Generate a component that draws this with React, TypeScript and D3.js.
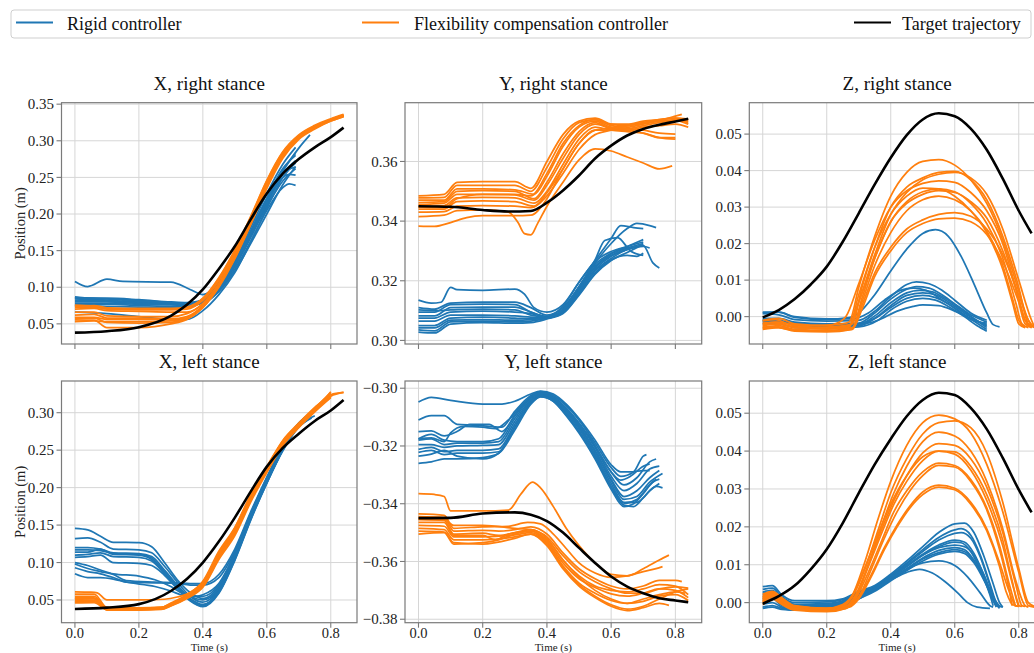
import React from 'react';
import * as d3 from 'd3';

type Pt = [number, number];

// ---------- shared tick values ----------
const TIME_TICKS = [0, 0.2, 0.4, 0.6, 0.8];
const X_RIGHT_Y_TICKS = [0.05, 0.1, 0.15, 0.2, 0.25, 0.3, 0.35];
const X_LEFT_Y_TICKS = [0.05, 0.1, 0.15, 0.2, 0.25, 0.3];
const Y_RIGHT_Y_TICKS = [0.3, 0.32, 0.34, 0.36];
const Y_LEFT_Y_TICKS = [-0.38, -0.36, -0.34, -0.32, -0.3];
const Z_Y_TICKS = [0, 0.01, 0.02, 0.03, 0.04, 0.05];

const LEGEND_LABELS = ['Rigid controller', 'Flexibility compensation controller', 'Target trajectory'];
const TITLES = ['X, right stance', 'Y, right stance', 'Z, right stance', 'X, left stance', 'Y, left stance', 'Z, left stance'];

// ---------- X, right stance ----------
const XR_TARGET: Pt[] = [[0,0.038],[0.1,0.040],[0.2,0.0455],[0.3,0.061],[0.35,0.076],[0.4,0.097],[0.45,0.125],[0.5,0.156],[0.55,0.193],[0.6,0.228],[0.65,0.255],[0.7,0.275],[0.75,0.291],[0.8,0.305],[0.84,0.318]];
const XR_RIGID: Pt[][] = [
  [[0,0.108],[0.04,0.101],[0.1,0.111],[0.15,0.108],[0.3,0.107],[0.36,0.097],[0.4,0.09],[0.45,0.105],[0.5,0.135],[0.55,0.172],[0.6,0.21],[0.65,0.245],[0.69,0.262]],
  [[0,0.087],[0.05,0.085],[0.1,0.085],[0.2,0.083],[0.3,0.08],[0.35,0.079],[0.4,0.082],[0.45,0.1],[0.5,0.13],[0.55,0.17],[0.6,0.215],[0.65,0.25],[0.67,0.254],[0.69,0.253]],
  [[0,0.085],[0.05,0.083],[0.1,0.084],[0.2,0.082],[0.3,0.079],[0.35,0.077],[0.4,0.078],[0.45,0.095],[0.5,0.125],[0.55,0.163],[0.6,0.205],[0.65,0.236],[0.67,0.241],[0.69,0.239]],
  [[0,0.084],[0.1,0.082],[0.2,0.08],[0.3,0.078],[0.35,0.076],[0.4,0.08],[0.45,0.1],[0.5,0.133],[0.55,0.175],[0.6,0.22],[0.65,0.256],[0.69,0.264]],
  [[0,0.082],[0.1,0.081],[0.2,0.079],[0.3,0.077],[0.35,0.076],[0.4,0.079],[0.45,0.097],[0.5,0.128],[0.55,0.168],[0.6,0.212],[0.65,0.255],[0.69,0.273]],
  [[0,0.08],[0.1,0.08],[0.2,0.078],[0.3,0.077],[0.35,0.077],[0.4,0.083],[0.45,0.104],[0.5,0.137],[0.55,0.178],[0.6,0.222],[0.65,0.262],[0.69,0.28]],
  [[0,0.078],[0.1,0.078],[0.2,0.077],[0.3,0.076],[0.35,0.075],[0.4,0.084],[0.45,0.107],[0.5,0.14],[0.55,0.182],[0.6,0.228],[0.65,0.268],[0.69,0.291]],
  [[0,0.076],[0.1,0.077],[0.2,0.075],[0.3,0.074],[0.35,0.074],[0.4,0.081],[0.45,0.1],[0.5,0.13],[0.55,0.17],[0.6,0.215],[0.65,0.258],[0.7,0.29],[0.735,0.308]],
  [[0,0.086],[0.1,0.084],[0.2,0.081],[0.3,0.079],[0.35,0.078],[0.4,0.079],[0.45,0.094],[0.5,0.122],[0.55,0.16],[0.6,0.2],[0.65,0.24],[0.69,0.265]],
  [[0,0.066],[0.1,0.064],[0.2,0.06],[0.3,0.056],[0.35,0.056],[0.4,0.068],[0.45,0.09],[0.5,0.12],[0.55,0.162],[0.6,0.208],[0.65,0.25],[0.69,0.27]],
  [[0,0.075],[0.1,0.074],[0.2,0.073],[0.3,0.072],[0.35,0.073],[0.4,0.08],[0.45,0.1],[0.5,0.132],[0.55,0.173],[0.6,0.218],[0.65,0.26],[0.69,0.283]],
];
const XR_FLEX: Pt[][] = [
  [[0,0.0757],[0.06,0.074],[0.1,0.071],[0.2,0.0705],[0.3,0.07],[0.35,0.072],[0.4,0.084],[0.45,0.112],[0.5,0.15],[0.55,0.196],[0.6,0.245],[0.65,0.284],[0.7,0.307],[0.75,0.32],[0.8,0.329],[0.84,0.335]],
  [[0,0.0725],[0.06,0.073],[0.1,0.07],[0.2,0.069],[0.3,0.069],[0.35,0.07],[0.4,0.082],[0.45,0.109],[0.5,0.147],[0.55,0.193],[0.6,0.242],[0.65,0.282],[0.7,0.306],[0.75,0.319],[0.8,0.329],[0.84,0.334]],
  [[0,0.066],[0.06,0.066],[0.1,0.061],[0.2,0.06],[0.3,0.06],[0.35,0.064],[0.4,0.078],[0.45,0.105],[0.5,0.143],[0.55,0.19],[0.6,0.24],[0.65,0.28],[0.7,0.305],[0.75,0.318],[0.8,0.328],[0.84,0.334]],
  [[0,0.062],[0.06,0.063],[0.1,0.058],[0.2,0.058],[0.3,0.057],[0.35,0.06],[0.4,0.075],[0.45,0.102],[0.5,0.14],[0.55,0.187],[0.6,0.237],[0.65,0.278],[0.7,0.303],[0.75,0.317],[0.8,0.327],[0.84,0.333]],
  [[0,0.059],[0.06,0.059],[0.1,0.056],[0.2,0.056],[0.3,0.056],[0.35,0.058],[0.4,0.073],[0.45,0.1],[0.5,0.139],[0.55,0.186],[0.6,0.235],[0.65,0.276],[0.7,0.302],[0.75,0.316],[0.8,0.327],[0.84,0.333]],
  [[0,0.0555],[0.06,0.055],[0.1,0.045],[0.2,0.045],[0.3,0.05],[0.35,0.056],[0.4,0.072],[0.45,0.101],[0.5,0.142],[0.55,0.19],[0.6,0.24],[0.65,0.279],[0.7,0.304],[0.75,0.318],[0.8,0.328],[0.84,0.334]],
  [[0,0.053],[0.06,0.054],[0.1,0.053],[0.2,0.053],[0.3,0.054],[0.35,0.058],[0.4,0.074],[0.45,0.103],[0.5,0.144],[0.55,0.191],[0.6,0.24],[0.65,0.28],[0.7,0.305],[0.75,0.319],[0.8,0.329],[0.84,0.335]],
  [[0,0.07],[0.06,0.071],[0.1,0.068],[0.2,0.067],[0.3,0.066],[0.35,0.066],[0.4,0.077],[0.45,0.104],[0.5,0.142],[0.55,0.188],[0.6,0.238],[0.65,0.279],[0.7,0.304],[0.75,0.318],[0.8,0.328],[0.84,0.334]],
  [[0,0.0575],[0.06,0.058],[0.1,0.052],[0.2,0.051],[0.3,0.052],[0.35,0.057],[0.4,0.073],[0.45,0.102],[0.5,0.142],[0.55,0.19],[0.6,0.24],[0.65,0.28],[0.7,0.304],[0.75,0.318],[0.8,0.328],[0.84,0.334]],
  [[0,0.074],[0.06,0.075],[0.1,0.072],[0.2,0.071],[0.3,0.071],[0.35,0.073],[0.4,0.085],[0.45,0.113],[0.5,0.151],[0.55,0.197],[0.6,0.246],[0.65,0.285],[0.7,0.308],[0.75,0.321],[0.8,0.33],[0.84,0.336]],
];

// ---------- Y, right stance ----------
const YR_TARGET: Pt[] = [[0,0.345],[0.1,0.3448],[0.2,0.3437],[0.28,0.3432],[0.35,0.3434],[0.4,0.3462],[0.45,0.3503],[0.5,0.3553],[0.55,0.361],[0.6,0.3653],[0.65,0.3687],[0.7,0.3709],[0.75,0.3723],[0.8,0.3734],[0.84,0.3743]];
const YR_RIGID: Pt[][] = [
  [[0,0.3135],[0.04,0.3125],[0.07,0.3128],[0.1,0.3178],[0.12,0.317],[0.2,0.3168],[0.3,0.3172],[0.33,0.3155],[0.36,0.311],[0.4,0.3095],[0.45,0.312],[0.5,0.3195],[0.55,0.3265],[0.6,0.3298],[0.65,0.3315],[0.7,0.333]],
  [[0,0.311],[0.05,0.3105],[0.1,0.3125],[0.2,0.3128],[0.3,0.3128],[0.35,0.311],[0.4,0.3085],[0.45,0.311],[0.5,0.318],[0.55,0.3255],[0.6,0.3292],[0.65,0.3315],[0.7,0.3338]],
  [[0,0.3095],[0.05,0.3095],[0.1,0.312],[0.2,0.3122],[0.3,0.312],[0.35,0.3095],[0.4,0.308],[0.45,0.3105],[0.5,0.3175],[0.55,0.3248],[0.6,0.329],[0.65,0.331],[0.7,0.3325]],
  [[0,0.3082],[0.05,0.3082],[0.1,0.311],[0.2,0.3112],[0.3,0.3112],[0.35,0.3095],[0.4,0.3078],[0.45,0.31],[0.5,0.317],[0.55,0.3245],[0.6,0.3285],[0.65,0.3305],[0.7,0.332]],
  [[0,0.3075],[0.05,0.3075],[0.1,0.3095],[0.2,0.3098],[0.3,0.3095],[0.35,0.309],[0.4,0.308],[0.45,0.3115],[0.5,0.3195],[0.55,0.3268],[0.6,0.3342],[0.63,0.3385],[0.67,0.3378],[0.7,0.3375]],
  [[0,0.3065],[0.05,0.3065],[0.1,0.3085],[0.2,0.3085],[0.3,0.3082],[0.35,0.3078],[0.4,0.3075],[0.45,0.31],[0.5,0.318],[0.55,0.327],[0.58,0.3335],[0.62,0.3345],[0.66,0.33],[0.7,0.3285]],
  [[0,0.305],[0.05,0.305],[0.1,0.3075],[0.2,0.3078],[0.3,0.3075],[0.35,0.3072],[0.4,0.3075],[0.45,0.3098],[0.5,0.3165],[0.55,0.3238],[0.6,0.3282],[0.65,0.3305],[0.7,0.3315],[0.72,0.331]],
  [[0,0.3042],[0.05,0.3042],[0.1,0.3068],[0.2,0.307],[0.3,0.3068],[0.35,0.307],[0.4,0.3078],[0.45,0.3095],[0.5,0.316],[0.55,0.3232],[0.6,0.3275],[0.65,0.3305],[0.7,0.3318],[0.73,0.326],[0.75,0.3243]],
  [[0,0.3035],[0.05,0.3032],[0.1,0.3062],[0.2,0.3065],[0.3,0.3062],[0.35,0.3065],[0.4,0.3075],[0.45,0.3092],[0.5,0.3155],[0.55,0.3225],[0.6,0.327],[0.65,0.3285],[0.68,0.3282],[0.7,0.3292]],
  [[0,0.3028],[0.05,0.3025],[0.1,0.3055],[0.2,0.306],[0.3,0.3058],[0.35,0.306],[0.4,0.3072],[0.45,0.309],[0.5,0.3152],[0.55,0.3222],[0.6,0.3268],[0.65,0.3295],[0.7,0.3322]],
  [[0,0.3102],[0.05,0.31],[0.1,0.3102],[0.2,0.3105],[0.3,0.3102],[0.35,0.3085],[0.4,0.3078],[0.45,0.3102],[0.5,0.318],[0.55,0.326],[0.6,0.3325],[0.65,0.3375],[0.68,0.3392],[0.72,0.3385],[0.74,0.3378]],
];
const YR_FLEX: Pt[][] = [
  [[0,0.3485],[0.08,0.349],[0.12,0.353],[0.2,0.3532],[0.3,0.3532],[0.35,0.351],[0.4,0.36],[0.45,0.369],[0.5,0.3735],[0.55,0.3745],[0.6,0.3725],[0.65,0.372],[0.7,0.373],[0.75,0.374],[0.8,0.3745],[0.84,0.3742]],
  [[0,0.3478],[0.08,0.348],[0.12,0.352],[0.2,0.352],[0.3,0.352],[0.35,0.35],[0.4,0.358],[0.45,0.3675],[0.5,0.373],[0.55,0.374],[0.6,0.372],[0.65,0.3715],[0.7,0.3725],[0.75,0.3735],[0.8,0.374],[0.84,0.373]],
  [[0,0.347],[0.08,0.347],[0.12,0.3508],[0.2,0.3508],[0.3,0.3505],[0.36,0.349],[0.4,0.355],[0.45,0.365],[0.5,0.3715],[0.55,0.3735],[0.6,0.3715],[0.65,0.371],[0.7,0.372],[0.75,0.373],[0.8,0.3738],[0.84,0.3725]],
  [[0,0.3462],[0.08,0.3465],[0.12,0.35],[0.2,0.3502],[0.3,0.35],[0.36,0.3475],[0.4,0.353],[0.45,0.3625],[0.5,0.37],[0.55,0.373],[0.6,0.371],[0.65,0.3705],[0.7,0.3715],[0.75,0.372],[0.8,0.3725],[0.84,0.3715]],
  [[0,0.3455],[0.08,0.346],[0.12,0.349],[0.2,0.349],[0.3,0.3488],[0.36,0.347],[0.4,0.352],[0.45,0.361],[0.5,0.369],[0.55,0.3725],[0.6,0.3712],[0.65,0.371],[0.7,0.3705],[0.75,0.3695],[0.8,0.3692]],
  [[0,0.3448],[0.08,0.3452],[0.12,0.3478],[0.2,0.348],[0.3,0.3478],[0.36,0.346],[0.4,0.35],[0.45,0.359],[0.5,0.3675],[0.55,0.3715],[0.6,0.3705],[0.65,0.37],[0.7,0.3695],[0.75,0.368],[0.8,0.3675]],
  [[0,0.344],[0.08,0.344],[0.12,0.3465],[0.2,0.3468],[0.3,0.3465],[0.36,0.345],[0.4,0.3495],[0.45,0.3575],[0.5,0.366],[0.55,0.3705],[0.6,0.3712],[0.65,0.372],[0.7,0.3728],[0.75,0.3738],[0.8,0.3752],[0.82,0.3758]],
  [[0,0.343],[0.08,0.3432],[0.12,0.345],[0.2,0.3452],[0.3,0.345],[0.35,0.3445],[0.4,0.3485],[0.45,0.356],[0.5,0.364],[0.55,0.369],[0.6,0.3705],[0.65,0.372],[0.7,0.373],[0.75,0.3735],[0.8,0.3735],[0.84,0.3735]],
  [[0,0.3415],[0.08,0.342],[0.12,0.3435],[0.2,0.3438],[0.28,0.343],[0.31,0.3395],[0.33,0.3358],[0.35,0.3354],[0.37,0.339],[0.4,0.345],[0.45,0.353],[0.5,0.3605],[0.55,0.3642],[0.6,0.3635],[0.65,0.3615],[0.7,0.3595],[0.75,0.3575],[0.79,0.3585]],
  [[0,0.3383],[0.05,0.3382],[0.1,0.3395],[0.15,0.3412],[0.2,0.3418],[0.3,0.3418],[0.35,0.342],[0.4,0.3475],[0.45,0.3575],[0.5,0.366],[0.55,0.3705],[0.6,0.3705],[0.65,0.3705],[0.7,0.3695],[0.75,0.368],[0.8,0.368]],
  [[0,0.3448],[0.08,0.3445],[0.12,0.3475],[0.2,0.349],[0.3,0.349],[0.35,0.3485],[0.4,0.356],[0.45,0.366],[0.5,0.372],[0.55,0.374],[0.6,0.3725],[0.65,0.3725],[0.7,0.3735],[0.75,0.374],[0.8,0.3745],[0.84,0.3738]],
];

// ---------- Z, right stance ----------
const ZR_TARGET: Pt[] = [[0,-0.0002],[0.05,0.0018],[0.1,0.0048],[0.15,0.0088],[0.2,0.0137],[0.25,0.0205],[0.3,0.0283],[0.35,0.0362],[0.4,0.0435],[0.45,0.0497],[0.5,0.054],[0.55,0.0557],[0.6,0.0549],[0.65,0.0515],[0.7,0.0457],[0.75,0.0378],[0.8,0.029],[0.84,0.0228]];
const ZR_RIGID: Pt[][] = [
  [[0,0.0012],[0.05,0.0012],[0.1,-0.0002],[0.2,-0.0008],[0.27,-0.0003],[0.3,0.001],[0.35,0.006],[0.4,0.0125],[0.45,0.0185],[0.5,0.0228],[0.54,0.0238],[0.58,0.022],[0.62,0.0165],[0.66,0.009],[0.7,0.001],[0.72,-0.0022],[0.74,-0.0028]],
  [[0,0.0008],[0.05,0.0005],[0.1,-0.0008],[0.2,-0.0012],[0.3,-0.001],[0.35,0.0015],[0.4,0.0055],[0.45,0.0088],[0.48,0.0095],[0.52,0.009],[0.56,0.0072],[0.6,0.0045],[0.65,0.001],[0.7,-0.001]],
  [[0,-0.0005],[0.05,-0.0005],[0.1,-0.0015],[0.2,-0.002],[0.3,-0.0018],[0.35,0.001],[0.4,0.0048],[0.45,0.0075],[0.48,0.0082],[0.52,0.0078],[0.56,0.006],[0.6,0.0035],[0.65,0.0005],[0.7,-0.0015]],
  [[0,-0.001],[0.05,-0.0012],[0.1,-0.002],[0.2,-0.0025],[0.3,-0.0022],[0.35,0.0002],[0.4,0.0038],[0.45,0.0065],[0.49,0.0072],[0.53,0.0068],[0.57,0.005],[0.62,0.002],[0.66,-0.0005],[0.7,-0.0025]],
  [[0,-0.0015],[0.05,-0.0015],[0.1,-0.0022],[0.2,-0.0028],[0.3,-0.0025],[0.35,-0.0005],[0.4,0.003],[0.45,0.0058],[0.5,0.0065],[0.54,0.006],[0.58,0.004],[0.63,0.001],[0.67,-0.0012],[0.7,-0.003]],
  [[0,-0.0008],[0.05,-0.001],[0.1,-0.0018],[0.2,-0.0022],[0.3,-0.002],[0.36,0.0],[0.4,0.0025],[0.45,0.005],[0.5,0.0058],[0.54,0.0052],[0.58,0.0035],[0.63,0.0005],[0.67,-0.0018],[0.7,-0.0035]],
  [[0,-0.002],[0.05,-0.002],[0.1,-0.003],[0.2,-0.0032],[0.3,-0.0028],[0.36,-0.001],[0.4,0.0018],[0.45,0.0042],[0.5,0.005],[0.54,0.0045],[0.58,0.0028],[0.63,0.0],[0.67,-0.0025],[0.7,-0.004]],
  [[0,-0.0012],[0.05,-0.0012],[0.1,-0.002],[0.2,-0.0025],[0.3,-0.0022],[0.36,-0.001],[0.42,0.0015],[0.47,0.0028],[0.5,0.0032],[0.55,0.003],[0.6,0.0015],[0.65,-0.0005],[0.7,-0.0022]],
  [[0,0.001],[0.05,0.0012],[0.1,0.0],[0.2,-0.0006],[0.28,-0.0006],[0.33,0.001],[0.38,0.0045],[0.43,0.0072],[0.47,0.0078],[0.51,0.0072],[0.55,0.0052],[0.6,0.0022],[0.65,-0.0008],[0.7,-0.0018]],
];
const ZR_FLEX: Pt[][] = [
  [[0,-0.0012],[0.04,-0.0008],[0.08,-0.002],[0.15,-0.0025],[0.25,-0.002],[0.27,-0.0015],[0.3,0.008],[0.35,0.022],[0.4,0.033],[0.45,0.0395],[0.5,0.0425],[0.55,0.043],[0.6,0.0415],[0.65,0.0375],[0.7,0.031],[0.75,0.021],[0.8,0.007],[0.83,-0.001],[0.84,-0.0025]],
  [[0,-0.002],[0.04,-0.0015],[0.08,-0.0025],[0.15,-0.003],[0.25,-0.0025],[0.28,-0.002],[0.31,0.008],[0.35,0.019],[0.4,0.03],[0.45,0.0355],[0.5,0.038],[0.55,0.0395],[0.6,0.0398],[0.65,0.0375],[0.7,0.032],[0.75,0.022],[0.8,0.008],[0.83,-0.002],[0.85,-0.003]],
  [[0,-0.0025],[0.05,-0.002],[0.1,-0.003],[0.2,-0.0032],[0.27,-0.0028],[0.3,0.004],[0.35,0.017],[0.4,0.028],[0.45,0.034],[0.5,0.0375],[0.55,0.039],[0.6,0.0395],[0.65,0.038],[0.7,0.0335],[0.75,0.024],[0.8,0.01],[0.84,-0.001],[0.85,-0.003]],
  [[0,-0.0018],[0.05,-0.0015],[0.1,-0.0025],[0.2,-0.003],[0.27,-0.0025],[0.3,0.006],[0.35,0.019],[0.4,0.028],[0.45,0.033],[0.5,0.0352],[0.55,0.035],[0.6,0.033],[0.65,0.029],[0.7,0.023],[0.75,0.013],[0.78,0.004],[0.8,-0.002],[0.82,-0.003]],
  [[0,-0.003],[0.05,-0.0025],[0.1,-0.0035],[0.2,-0.0038],[0.28,-0.003],[0.31,0.005],[0.35,0.016],[0.4,0.026],[0.45,0.0315],[0.5,0.0342],[0.55,0.035],[0.6,0.0342],[0.65,0.031],[0.7,0.0255],[0.75,0.016],[0.79,0.004],[0.81,-0.002],[0.83,-0.003]],
  [[0,-0.0022],[0.05,-0.002],[0.1,-0.003],[0.2,-0.0034],[0.27,-0.0028],[0.3,0.004],[0.35,0.016],[0.4,0.026],[0.45,0.031],[0.5,0.0335],[0.55,0.0345],[0.6,0.034],[0.65,0.0315],[0.7,0.027],[0.75,0.018],[0.8,0.005],[0.82,-0.001],[0.84,-0.003]],
  [[0,-0.0028],[0.05,-0.003],[0.1,-0.0038],[0.2,-0.004],[0.28,-0.0032],[0.31,0.004],[0.35,0.014],[0.4,0.023],[0.45,0.029],[0.5,0.032],[0.55,0.033],[0.6,0.032],[0.65,0.029],[0.7,0.0235],[0.75,0.014],[0.78,0.005],[0.8,-0.001],[0.82,-0.003]],
  [[0,-0.0035],[0.05,-0.003],[0.1,-0.004],[0.2,-0.0042],[0.28,-0.0035],[0.31,0.003],[0.35,0.012],[0.4,0.019],[0.45,0.024],[0.5,0.0265],[0.55,0.028],[0.6,0.0285],[0.65,0.0275],[0.7,0.024],[0.75,0.017],[0.8,0.006],[0.83,-0.001],[0.85,-0.003]],
  [[0,-0.0032],[0.05,-0.0028],[0.1,-0.0036],[0.2,-0.004],[0.28,-0.0034],[0.31,0.002],[0.35,0.011],[0.4,0.018],[0.45,0.023],[0.5,0.0255],[0.55,0.0268],[0.6,0.027],[0.65,0.026],[0.7,0.0225],[0.75,0.015],[0.8,0.004],[0.82,-0.001],[0.84,-0.003]],
  [[0,-0.001],[0.05,-0.0005],[0.1,-0.002],[0.2,-0.0025],[0.24,-0.0015],[0.26,0.0],[0.3,0.009],[0.35,0.021],[0.4,0.03],[0.45,0.0345],[0.5,0.0365],[0.55,0.0372],[0.6,0.0368],[0.65,0.034],[0.7,0.029],[0.75,0.02],[0.79,0.008],[0.82,-0.002],[0.84,-0.003]],
];

// ---------- X, left stance ----------
const XL_TARGET: Pt[] = [[0,0.038],[0.1,0.0398],[0.2,0.0445],[0.3,0.062],[0.35,0.078],[0.4,0.1],[0.45,0.128],[0.5,0.16],[0.55,0.195],[0.6,0.228],[0.65,0.253],[0.7,0.272],[0.75,0.289],[0.8,0.303],[0.84,0.317]];
const XL_RIGID: Pt[][] = [
  [[0,0.1455],[0.04,0.1435],[0.08,0.135],[0.12,0.127],[0.2,0.1265],[0.24,0.121],[0.28,0.1],[0.32,0.077],[0.36,0.06],[0.4,0.052],[0.45,0.068],[0.5,0.112],[0.55,0.165],[0.6,0.212],[0.65,0.255],[0.7,0.285],[0.74,0.3]],
  [[0,0.132],[0.04,0.133],[0.08,0.127],[0.12,0.118],[0.2,0.117],[0.24,0.113],[0.28,0.095],[0.32,0.074],[0.36,0.055],[0.4,0.047],[0.45,0.064],[0.5,0.108],[0.55,0.162],[0.6,0.21],[0.65,0.252],[0.7,0.283],[0.74,0.297]],
  [[0,0.12],[0.04,0.12],[0.08,0.118],[0.12,0.113],[0.2,0.112],[0.24,0.108],[0.28,0.09],[0.32,0.07],[0.36,0.052],[0.4,0.044],[0.45,0.061],[0.5,0.105],[0.55,0.159],[0.6,0.207],[0.65,0.25],[0.7,0.281],[0.74,0.294]],
  [[0,0.117],[0.04,0.117],[0.08,0.116],[0.12,0.112],[0.2,0.111],[0.24,0.106],[0.28,0.088],[0.32,0.068],[0.36,0.05],[0.4,0.042],[0.45,0.06],[0.5,0.104],[0.55,0.158],[0.6,0.206],[0.65,0.249],[0.7,0.281],[0.74,0.293]],
  [[0,0.114],[0.04,0.114],[0.08,0.118],[0.12,0.111],[0.2,0.11],[0.24,0.104],[0.28,0.086],[0.32,0.066],[0.36,0.049],[0.4,0.041],[0.45,0.059],[0.5,0.103],[0.55,0.157],[0.6,0.206],[0.65,0.25],[0.7,0.282],[0.75,0.296]],
  [[0,0.11],[0.04,0.111],[0.08,0.113],[0.12,0.108],[0.2,0.107],[0.24,0.102],[0.28,0.085],[0.32,0.066],[0.36,0.05],[0.4,0.043],[0.45,0.062],[0.5,0.107],[0.55,0.161],[0.6,0.209],[0.65,0.253],[0.7,0.284],[0.74,0.298]],
  [[0,0.107],[0.04,0.108],[0.08,0.11],[0.12,0.1],[0.2,0.099],[0.24,0.096],[0.28,0.083],[0.32,0.066],[0.36,0.055],[0.4,0.05],[0.45,0.066],[0.5,0.11],[0.55,0.163],[0.6,0.211],[0.65,0.254],[0.7,0.284],[0.74,0.299]],
  [[0,0.098],[0.04,0.092],[0.08,0.088],[0.12,0.084],[0.16,0.076],[0.25,0.074],[0.32,0.073],[0.36,0.072],[0.4,0.072],[0.45,0.084],[0.5,0.118],[0.55,0.168],[0.6,0.214],[0.65,0.256],[0.7,0.286],[0.74,0.301]],
  [[0,0.093],[0.04,0.088],[0.08,0.085],[0.12,0.08],[0.16,0.074],[0.25,0.073],[0.32,0.072],[0.36,0.07],[0.4,0.07],[0.45,0.08],[0.5,0.115],[0.55,0.166],[0.6,0.213],[0.65,0.255],[0.7,0.286],[0.74,0.3]],
  [[0,0.085],[0.04,0.08],[0.08,0.08],[0.12,0.078],[0.16,0.074],[0.25,0.068],[0.3,0.062],[0.34,0.056],[0.38,0.055],[0.4,0.057],[0.45,0.072],[0.5,0.112],[0.55,0.164],[0.6,0.211],[0.65,0.254],[0.7,0.284],[0.73,0.295]],
  [[0,0.1],[0.04,0.096],[0.08,0.09],[0.12,0.085],[0.2,0.082],[0.25,0.077],[0.3,0.068],[0.34,0.058],[0.38,0.055],[0.4,0.055],[0.45,0.07],[0.5,0.11],[0.55,0.163],[0.6,0.21],[0.65,0.253],[0.7,0.284],[0.74,0.298]],
];
const XL_FLEX: Pt[][] = [
  [[0,0.061],[0.05,0.0605],[0.07,0.0595],[0.1,0.0502],[0.2,0.0502],[0.28,0.051],[0.32,0.054],[0.36,0.06],[0.4,0.074],[0.45,0.112],[0.5,0.146],[0.55,0.19],[0.6,0.227],[0.65,0.262],[0.7,0.285],[0.75,0.306],[0.8,0.327]],
  [[0,0.058],[0.06,0.058],[0.1,0.04],[0.2,0.039],[0.27,0.04],[0.3,0.045],[0.35,0.056],[0.4,0.072],[0.45,0.11],[0.5,0.143],[0.55,0.188],[0.6,0.226],[0.65,0.261],[0.7,0.284],[0.75,0.305],[0.8,0.324],[0.84,0.327]],
  [[0,0.055],[0.06,0.055],[0.1,0.038],[0.2,0.038],[0.27,0.039],[0.3,0.044],[0.35,0.054],[0.4,0.07],[0.45,0.108],[0.5,0.141],[0.55,0.186],[0.6,0.224],[0.65,0.26],[0.7,0.283],[0.75,0.304],[0.8,0.322]],
  [[0,0.053],[0.06,0.053],[0.1,0.037],[0.2,0.037],[0.27,0.038],[0.3,0.043],[0.35,0.053],[0.4,0.068],[0.45,0.106],[0.5,0.139],[0.55,0.184],[0.6,0.222],[0.65,0.258],[0.7,0.282],[0.75,0.303],[0.8,0.321]],
  [[0,0.051],[0.06,0.0515],[0.1,0.0365],[0.2,0.0365],[0.27,0.0375],[0.3,0.042],[0.35,0.052],[0.4,0.067],[0.45,0.104],[0.5,0.136],[0.55,0.181],[0.6,0.22],[0.65,0.256],[0.7,0.28],[0.75,0.301],[0.8,0.32]],
  [[0,0.049],[0.06,0.049],[0.1,0.038],[0.2,0.0385],[0.27,0.04],[0.3,0.046],[0.35,0.057],[0.4,0.075],[0.45,0.115],[0.5,0.147],[0.55,0.191],[0.6,0.228],[0.65,0.263],[0.7,0.286],[0.75,0.307],[0.78,0.318],[0.8,0.328]],
  [[0,0.0475],[0.06,0.048],[0.1,0.039],[0.2,0.039],[0.27,0.0395],[0.3,0.044],[0.35,0.055],[0.4,0.071],[0.45,0.109],[0.5,0.142],[0.55,0.187],[0.6,0.225],[0.65,0.26],[0.7,0.284],[0.75,0.304],[0.8,0.322],[0.84,0.327]],
  [[0,0.046],[0.06,0.0465],[0.1,0.0375],[0.2,0.0375],[0.27,0.038],[0.3,0.0425],[0.35,0.053],[0.4,0.069],[0.45,0.107],[0.5,0.14],[0.55,0.185],[0.6,0.223],[0.65,0.259],[0.7,0.283],[0.75,0.303],[0.8,0.321]],
  [[0,0.052],[0.06,0.052],[0.1,0.0395],[0.2,0.0395],[0.27,0.04],[0.3,0.045],[0.35,0.056],[0.4,0.073],[0.45,0.113],[0.5,0.145],[0.55,0.189],[0.6,0.226],[0.65,0.262],[0.7,0.285],[0.75,0.305],[0.8,0.325]],
];

// ---------- Y, left stance ----------
const YL_TARGET: Pt[] = [[0,-0.345],[0.1,-0.3449],[0.2,-0.3434],[0.3,-0.343],[0.35,-0.3438],[0.4,-0.346],[0.45,-0.35],[0.5,-0.3553],[0.55,-0.3605],[0.6,-0.3652],[0.65,-0.3687],[0.7,-0.371],[0.75,-0.3727],[0.8,-0.3735],[0.84,-0.3741]];
const YL_RIGID: Pt[][] = [
  [[0,-0.3048],[0.04,-0.3032],[0.1,-0.3042],[0.2,-0.3055],[0.26,-0.3055],[0.3,-0.3045],[0.35,-0.302],[0.38,-0.301],[0.42,-0.302],[0.46,-0.3055],[0.5,-0.3105],[0.55,-0.318],[0.6,-0.3265],[0.63,-0.329],[0.66,-0.329],[0.7,-0.3285],[0.72,-0.3285]],
  [[0,-0.311],[0.04,-0.3095],[0.08,-0.3095],[0.12,-0.3125],[0.18,-0.3128],[0.22,-0.3132],[0.26,-0.3135],[0.3,-0.308],[0.35,-0.3025],[0.38,-0.3012],[0.42,-0.3025],[0.46,-0.306],[0.5,-0.311],[0.55,-0.319],[0.6,-0.3275],[0.63,-0.3305],[0.67,-0.329],[0.7,-0.3235],[0.71,-0.323]],
  [[0,-0.315],[0.04,-0.3148],[0.08,-0.3165],[0.12,-0.315],[0.16,-0.3125],[0.22,-0.3125],[0.26,-0.315],[0.3,-0.3095],[0.35,-0.303],[0.38,-0.3015],[0.42,-0.303],[0.46,-0.3068],[0.5,-0.312],[0.55,-0.32],[0.6,-0.329],[0.64,-0.3335],[0.68,-0.331],[0.72,-0.3255],[0.74,-0.3245]],
  [[0,-0.3175],[0.04,-0.316],[0.08,-0.318],[0.12,-0.3185],[0.2,-0.3185],[0.25,-0.3175],[0.3,-0.3095],[0.35,-0.3032],[0.38,-0.3018],[0.42,-0.3032],[0.46,-0.3072],[0.5,-0.3125],[0.55,-0.3205],[0.6,-0.3305],[0.64,-0.3355],[0.68,-0.333],[0.72,-0.328],[0.75,-0.327]],
  [[0,-0.318],[0.04,-0.3175],[0.08,-0.3195],[0.12,-0.319],[0.2,-0.319],[0.25,-0.3185],[0.3,-0.3105],[0.35,-0.3035],[0.38,-0.302],[0.42,-0.3035],[0.46,-0.3075],[0.5,-0.313],[0.55,-0.3215],[0.6,-0.3315],[0.64,-0.3375],[0.68,-0.3355],[0.72,-0.331],[0.75,-0.3285]],
  [[0,-0.3195],[0.04,-0.3195],[0.08,-0.3205],[0.12,-0.32],[0.2,-0.3198],[0.25,-0.3195],[0.3,-0.3115],[0.35,-0.304],[0.38,-0.3022],[0.42,-0.3038],[0.46,-0.308],[0.5,-0.3135],[0.55,-0.322],[0.6,-0.332],[0.64,-0.3385],[0.68,-0.3375],[0.72,-0.3325],[0.76,-0.3295]],
  [[0,-0.3212],[0.04,-0.3205],[0.08,-0.322],[0.12,-0.3215],[0.2,-0.3215],[0.25,-0.321],[0.3,-0.3125],[0.35,-0.3045],[0.38,-0.3025],[0.42,-0.304],[0.46,-0.3085],[0.5,-0.314],[0.55,-0.3228],[0.6,-0.333],[0.64,-0.3395],[0.68,-0.3395],[0.72,-0.3355],[0.75,-0.333]],
  [[0,-0.3222],[0.04,-0.3215],[0.08,-0.323],[0.12,-0.3225],[0.2,-0.3225],[0.25,-0.322],[0.3,-0.3135],[0.35,-0.305],[0.38,-0.3028],[0.42,-0.3042],[0.46,-0.309],[0.5,-0.3148],[0.55,-0.3238],[0.6,-0.3342],[0.64,-0.3405],[0.67,-0.341],[0.7,-0.338],[0.74,-0.334],[0.76,-0.3345]],
  [[0,-0.3235],[0.04,-0.3228],[0.08,-0.3215],[0.12,-0.3235],[0.2,-0.3245],[0.25,-0.3225],[0.3,-0.3135],[0.35,-0.3052],[0.38,-0.3028],[0.42,-0.3045],[0.46,-0.3095],[0.5,-0.3155],[0.55,-0.3245],[0.6,-0.335],[0.64,-0.341],[0.67,-0.34],[0.7,-0.3365],[0.73,-0.3325],[0.75,-0.3315]],
  [[0,-0.326],[0.04,-0.3255],[0.08,-0.3245],[0.12,-0.3245],[0.2,-0.324],[0.25,-0.3225],[0.3,-0.3145],[0.35,-0.3055],[0.38,-0.303],[0.42,-0.3045],[0.46,-0.3092],[0.5,-0.315],[0.55,-0.3235],[0.6,-0.334],[0.64,-0.3398],[0.68,-0.3385],[0.72,-0.3335],[0.74,-0.3315]],
  [[0,-0.3175],[0.04,-0.3172],[0.08,-0.3185],[0.1,-0.3155],[0.14,-0.3132],[0.2,-0.3135],[0.24,-0.314],[0.28,-0.311],[0.33,-0.305],[0.37,-0.302],[0.4,-0.3018],[0.44,-0.304],[0.48,-0.308],[0.52,-0.314],[0.56,-0.322],[0.6,-0.329],[0.63,-0.3318],[0.66,-0.3305],[0.7,-0.327],[0.72,-0.3262]],
];
const YL_FLEX: Pt[][] = [
  [[0,-0.3365],[0.05,-0.3368],[0.08,-0.3375],[0.1,-0.3425],[0.2,-0.3425],[0.28,-0.3422],[0.32,-0.3365],[0.355,-0.3325],[0.38,-0.3345],[0.42,-0.341],[0.46,-0.3485],[0.5,-0.3545],[0.55,-0.3605],[0.6,-0.3645],[0.65,-0.365],[0.7,-0.3625],[0.75,-0.3595],[0.78,-0.3578]],
  [[0,-0.3435],[0.08,-0.344],[0.11,-0.3485],[0.2,-0.348],[0.28,-0.3478],[0.34,-0.3465],[0.38,-0.347],[0.42,-0.3505],[0.46,-0.3555],[0.5,-0.3605],[0.55,-0.364],[0.6,-0.3655],[0.65,-0.365],[0.7,-0.3635],[0.74,-0.3625],[0.76,-0.3618]],
  [[0,-0.3445],[0.08,-0.3448],[0.11,-0.3495],[0.2,-0.3492],[0.25,-0.3495],[0.3,-0.349],[0.35,-0.348],[0.4,-0.3505],[0.45,-0.357],[0.5,-0.3625],[0.55,-0.366],[0.6,-0.3685],[0.65,-0.3695],[0.7,-0.3685],[0.75,-0.3665],[0.8,-0.3665],[0.82,-0.367]],
  [[0,-0.3455],[0.08,-0.3458],[0.11,-0.3505],[0.2,-0.3502],[0.25,-0.351],[0.3,-0.35],[0.35,-0.349],[0.4,-0.352],[0.45,-0.3595],[0.5,-0.365],[0.55,-0.3685],[0.6,-0.37],[0.65,-0.3705],[0.7,-0.3695],[0.75,-0.368],[0.8,-0.3685],[0.84,-0.3715]],
  [[0,-0.3465],[0.08,-0.3465],[0.11,-0.351],[0.2,-0.351],[0.24,-0.3525],[0.28,-0.3505],[0.35,-0.3495],[0.4,-0.353],[0.45,-0.3605],[0.5,-0.366],[0.55,-0.369],[0.6,-0.3712],[0.65,-0.372],[0.7,-0.371],[0.75,-0.3695],[0.8,-0.37],[0.84,-0.3725]],
  [[0,-0.3475],[0.08,-0.3478],[0.11,-0.3515],[0.2,-0.3515],[0.3,-0.3508],[0.35,-0.35],[0.4,-0.3535],[0.45,-0.3615],[0.5,-0.3675],[0.55,-0.371],[0.6,-0.3735],[0.65,-0.3745],[0.7,-0.373],[0.75,-0.3715],[0.8,-0.3705],[0.83,-0.371]],
  [[0,-0.3485],[0.08,-0.349],[0.11,-0.3525],[0.2,-0.3525],[0.3,-0.3515],[0.35,-0.3505],[0.4,-0.3545],[0.45,-0.3625],[0.5,-0.3685],[0.55,-0.3725],[0.6,-0.3755],[0.65,-0.377],[0.7,-0.376],[0.75,-0.3745],[0.78,-0.3752]],
  [[0,-0.3495],[0.08,-0.3498],[0.11,-0.3535],[0.2,-0.354],[0.3,-0.352],[0.35,-0.3505],[0.4,-0.354],[0.45,-0.362],[0.5,-0.368],[0.55,-0.372],[0.6,-0.375],[0.65,-0.3765],[0.7,-0.3755],[0.75,-0.373],[0.8,-0.3705],[0.84,-0.3695]],
  [[0,-0.3505],[0.08,-0.35],[0.11,-0.354],[0.2,-0.3535],[0.25,-0.3525],[0.3,-0.3505],[0.35,-0.3495],[0.4,-0.3525],[0.45,-0.3595],[0.5,-0.3655],[0.55,-0.37],[0.6,-0.373],[0.65,-0.3745],[0.7,-0.3738],[0.75,-0.372],[0.8,-0.3715],[0.84,-0.3735]],
  [[0,-0.3452],[0.08,-0.3455],[0.11,-0.3475],[0.2,-0.3475],[0.3,-0.3485],[0.35,-0.349],[0.4,-0.3515],[0.45,-0.358],[0.5,-0.3635],[0.55,-0.367],[0.6,-0.3695],[0.65,-0.371],[0.7,-0.371],[0.75,-0.3695],[0.8,-0.3688],[0.84,-0.3692]],
];

// ---------- Z, left stance ----------
const ZL_TARGET: Pt[] = [[0,-0.0003],[0.05,0.0017],[0.1,0.0045],[0.15,0.0088],[0.2,0.0141],[0.25,0.021],[0.3,0.0289],[0.35,0.0365],[0.4,0.0432],[0.45,0.0492],[0.5,0.0535],[0.55,0.0554],[0.6,0.0548],[0.65,0.0514],[0.7,0.0458],[0.75,0.0382],[0.8,0.0298],[0.84,0.0238]];
const ZL_RIGID: Pt[][] = [
  [[0,0.0042],[0.03,0.0045],[0.06,0.002],[0.1,0.0005],[0.2,0.0005],[0.25,0.001],[0.3,0.003],[0.35,0.0045],[0.4,0.0075],[0.45,0.011],[0.5,0.0148],[0.55,0.0185],[0.6,0.0208],[0.63,0.021],[0.66,0.0185],[0.69,0.0125],[0.72,0.005],[0.74,0.0],[0.75,-0.0012]],
  [[0,0.0035],[0.03,0.0038],[0.06,0.0015],[0.1,0.0],[0.2,0.0002],[0.25,0.0008],[0.3,0.0028],[0.35,0.0042],[0.4,0.0072],[0.45,0.0105],[0.5,0.014],[0.55,0.0172],[0.6,0.0192],[0.62,0.0195],[0.65,0.0178],[0.68,0.0125],[0.71,0.005],[0.73,0.0],[0.74,-0.001]],
  [[0,0.0028],[0.03,0.0032],[0.06,0.001],[0.1,-0.0005],[0.2,-0.0002],[0.25,0.0005],[0.3,0.0025],[0.35,0.004],[0.4,0.007],[0.45,0.0102],[0.5,0.0135],[0.55,0.0165],[0.6,0.0183],[0.62,0.0185],[0.65,0.017],[0.68,0.012],[0.71,0.0045],[0.73,-0.0005],[0.74,-0.0012]],
  [[0,0.002],[0.03,0.0025],[0.06,0.0005],[0.1,-0.0008],[0.2,-0.0005],[0.25,0.0003],[0.3,0.0022],[0.35,0.0038],[0.4,0.0068],[0.45,0.0098],[0.5,0.0128],[0.55,0.0152],[0.6,0.0165],[0.63,0.016],[0.66,0.013],[0.69,0.0075],[0.72,0.001],[0.73,-0.001]],
  [[0,0.0015],[0.03,0.002],[0.06,0.0],[0.1,-0.001],[0.2,-0.0008],[0.25,0.0],[0.3,0.002],[0.35,0.0035],[0.4,0.0065],[0.45,0.0095],[0.5,0.0125],[0.55,0.0148],[0.6,0.016],[0.62,0.0158],[0.65,0.0135],[0.68,0.0085],[0.71,0.002],[0.72,-0.0008]],
  [[0,0.001],[0.03,0.0015],[0.06,-0.0005],[0.1,-0.0012],[0.2,-0.001],[0.25,-0.0002],[0.3,0.0018],[0.35,0.0035],[0.4,0.0062],[0.45,0.009],[0.5,0.0118],[0.55,0.0138],[0.6,0.0145],[0.63,0.014],[0.66,0.0112],[0.69,0.0065],[0.72,0.0005],[0.73,-0.0012]],
  [[0,0.0005],[0.03,0.001],[0.06,-0.0008],[0.1,-0.0015],[0.2,-0.0012],[0.25,-0.0005],[0.3,0.0015],[0.35,0.0032],[0.4,0.006],[0.45,0.0088],[0.5,0.0115],[0.55,0.0132],[0.6,0.014],[0.63,0.0135],[0.66,0.011],[0.7,0.005],[0.73,-0.0005],[0.74,-0.0015]],
  [[0,-0.0005],[0.03,0.0],[0.06,-0.0012],[0.1,-0.0018],[0.2,-0.0015],[0.25,-0.0008],[0.3,0.001],[0.35,0.003],[0.4,0.0058],[0.45,0.0085],[0.5,0.011],[0.55,0.0128],[0.6,0.0135],[0.63,0.013],[0.66,0.0105],[0.7,0.0045],[0.73,-0.0005],[0.75,-0.0012]],
  [[0,-0.0012],[0.03,-0.0008],[0.06,-0.0015],[0.1,-0.002],[0.2,-0.0018],[0.25,-0.001],[0.3,0.001],[0.35,0.0035],[0.4,0.0062],[0.45,0.0088],[0.5,0.0105],[0.55,0.011],[0.6,0.0098],[0.64,0.0068],[0.68,0.0025],[0.71,-0.0008],[0.72,-0.0012]],
  [[0,-0.0015],[0.03,-0.0012],[0.06,-0.0018],[0.1,-0.002],[0.2,-0.0018],[0.25,-0.0005],[0.3,0.002],[0.35,0.004],[0.4,0.006],[0.45,0.008],[0.49,0.0088],[0.53,0.0078],[0.57,0.0055],[0.61,0.0025],[0.64,0.0],[0.67,-0.0012],[0.71,-0.0015]],
  [[0,0.0025],[0.03,0.0028],[0.06,0.0008],[0.1,-0.0005],[0.2,-0.0005],[0.25,0.0002],[0.3,0.0022],[0.35,0.0036],[0.4,0.0066],[0.45,0.0096],[0.5,0.0126],[0.55,0.0145],[0.6,0.0152],[0.63,0.0148],[0.66,0.0125],[0.69,0.0075],[0.72,0.0015],[0.74,-0.001]],
];
const ZL_FLEX: Pt[][] = [
  [[0,0.0018],[0.03,0.0028],[0.06,0.001],[0.1,-0.001],[0.2,-0.0015],[0.25,-0.0005],[0.28,0.002],[0.32,0.011],[0.36,0.022],[0.4,0.032],[0.45,0.0415],[0.5,0.0475],[0.55,0.0495],[0.6,0.0485],[0.65,0.0448],[0.7,0.0365],[0.75,0.024],[0.8,0.008],[0.83,-0.0008],[0.85,-0.0012]],
  [[0,0.0012],[0.03,0.0025],[0.06,0.0008],[0.1,-0.0012],[0.2,-0.0018],[0.25,-0.001],[0.28,0.0015],[0.32,0.009],[0.36,0.019],[0.4,0.029],[0.45,0.038],[0.5,0.0445],[0.55,0.0475],[0.6,0.048],[0.65,0.0462],[0.7,0.0395],[0.75,0.0265],[0.8,0.009],[0.83,0.0],[0.85,-0.001]],
  [[0,0.0005],[0.03,0.002],[0.06,0.0005],[0.1,-0.0015],[0.2,-0.002],[0.26,-0.0012],[0.29,0.0015],[0.33,0.01],[0.37,0.02],[0.41,0.029],[0.45,0.036],[0.5,0.0425],[0.55,0.045],[0.6,0.044],[0.65,0.04],[0.7,0.032],[0.75,0.0195],[0.79,0.006],[0.82,-0.0008],[0.83,-0.0012]],
  [[0,0.0008],[0.03,0.0022],[0.06,0.0002],[0.1,-0.0015],[0.2,-0.002],[0.26,-0.001],[0.29,0.002],[0.33,0.01],[0.37,0.019],[0.41,0.027],[0.45,0.0335],[0.5,0.0395],[0.55,0.042],[0.6,0.0415],[0.65,0.038],[0.7,0.0305],[0.75,0.0185],[0.79,0.005],[0.81,-0.0008],[0.82,-0.001]],
  [[0,0.0002],[0.03,0.0018],[0.06,0.0],[0.1,-0.0018],[0.2,-0.0022],[0.26,-0.0012],[0.29,0.0015],[0.33,0.0095],[0.37,0.018],[0.41,0.026],[0.45,0.032],[0.5,0.0375],[0.55,0.04],[0.6,0.0398],[0.65,0.036],[0.7,0.0285],[0.75,0.0165],[0.78,0.0055],[0.8,-0.0008],[0.81,-0.001]],
  [[0,0.0015],[0.03,0.0028],[0.06,0.0012],[0.1,-0.0008],[0.2,-0.0015],[0.25,-0.0008],[0.28,0.0018],[0.32,0.0095],[0.36,0.018],[0.4,0.026],[0.45,0.0335],[0.5,0.0385],[0.55,0.04],[0.6,0.0392],[0.65,0.035],[0.7,0.027],[0.75,0.015],[0.78,0.005],[0.8,-0.0008]],
  [[0,0.0],[0.03,0.0015],[0.06,-0.0002],[0.1,-0.0018],[0.2,-0.0022],[0.26,-0.0015],[0.29,0.001],[0.33,0.008],[0.37,0.016],[0.41,0.024],[0.45,0.0295],[0.5,0.0345],[0.55,0.0368],[0.6,0.0362],[0.65,0.0325],[0.7,0.025],[0.74,0.015],[0.77,0.005],[0.79,-0.001]],
  [[0,-0.0005],[0.03,0.001],[0.06,-0.0005],[0.1,-0.002],[0.2,-0.0024],[0.26,-0.0015],[0.3,0.0015],[0.34,0.009],[0.38,0.017],[0.42,0.024],[0.46,0.0295],[0.5,0.0335],[0.55,0.0362],[0.6,0.0358],[0.65,0.032],[0.7,0.0245],[0.74,0.014],[0.77,0.0035],[0.78,-0.0005],[0.8,-0.001]],
  [[0,0.0022],[0.03,0.003],[0.06,0.0012],[0.1,-0.001],[0.2,-0.0015],[0.27,-0.0008],[0.3,0.0015],[0.34,0.0075],[0.38,0.0145],[0.42,0.0205],[0.46,0.0255],[0.5,0.0292],[0.55,0.031],[0.6,0.0302],[0.65,0.0265],[0.7,0.0195],[0.74,0.0105],[0.77,0.003],[0.79,-0.0008],[0.8,-0.001]],
  [[0,0.001],[0.03,0.0022],[0.06,0.0005],[0.1,-0.0015],[0.2,-0.002],[0.27,-0.0012],[0.3,0.001],[0.34,0.007],[0.38,0.014],[0.42,0.02],[0.46,0.025],[0.5,0.0285],[0.55,0.0305],[0.6,0.0298],[0.65,0.026],[0.7,0.019],[0.74,0.0095],[0.76,0.003],[0.78,-0.0008]],
];

// ---------- layout / style (not data) ----------
const W = 1034;
const H = 653;
const COLS: [number, number][] = [[61.5, 357], [405, 701.7], [749.3, 1045]];
const ROWS: [number, number][] = [[102.7, 344], [381, 622.7]];
const BLUE = '#1f77b4';
const ORANGE = '#ff7f0e';
const SERIF = '"Liberation Serif", "Times New Roman", Times, serif';
const SPINE = '#7a7a7a';
const GRID = '#d6d6d6';
const LW = 1.75;

type PanelDef = {
  title: string;
  rigid: Pt[][];
  flex: Pt[][];
  target: Pt[];
  yDomain: [number, number];
  yTicks: number[];
  col: number;
  row: number;
};

const PANELS: PanelDef[] = [
  { title: TITLES[0], rigid: XR_RIGID, flex: XR_FLEX, target: XR_TARGET, yDomain: [0.0225, 0.352], yTicks: X_RIGHT_Y_TICKS, col: 0, row: 0 },
  { title: TITLES[1], rigid: YR_RIGID, flex: YR_FLEX, target: YR_TARGET, yDomain: [0.2988, 0.3797], yTicks: Y_RIGHT_Y_TICKS, col: 1, row: 0 },
  { title: TITLES[2], rigid: ZR_RIGID, flex: ZR_FLEX, target: ZR_TARGET, yDomain: [-0.0075, 0.0586], yTicks: Z_Y_TICKS, col: 2, row: 0 },
  { title: TITLES[3], rigid: XL_RIGID, flex: XL_FLEX, target: XL_TARGET, yDomain: [0.0197, 0.3423], yTicks: X_LEFT_Y_TICKS, col: 0, row: 1 },
  { title: TITLES[4], rigid: YL_RIGID, flex: YL_FLEX, target: YL_TARGET, yDomain: [-0.3812, -0.2975], yTicks: Y_LEFT_Y_TICKS, col: 1, row: 1 },
  { title: TITLES[5], rigid: ZL_RIGID, flex: ZL_FLEX, target: ZL_TARGET, yDomain: [-0.0053, 0.0585], yTicks: Z_Y_TICKS, col: 2, row: 1 },
];

const fmt2 = d3.format('.2f');
const fmt1 = d3.format('.1f');
const minus = (s: string) => s.replace('-', '\u2212');

function Panel({ p, idx }: { p: PanelDef; idx: number }) {
  const [x0, x1] = COLS[p.col];
  const [y0, y1] = ROWS[p.row];
  const x = d3.scaleLinear().domain([-0.042, 0.882]).range([x0, x1]);
  const y = d3.scaleLinear().domain(p.yDomain).range([y1, y0]);
  const line = d3
    .line<Pt>()
    .x((d) => x(d[0]))
    .y((d) => y(d[1]))
    .curve(d3.curveMonotoneX);
  const clipId = `clip-${idx}`;
  const cx = (x0 + x1) / 2;
  const bottom = p.row === 1;
  return (
    <g>
      <defs>
        <clipPath id={clipId}>
          <rect x={x0} y={y0} width={x1 - x0} height={y1 - y0} />
        </clipPath>
      </defs>
      <rect x={x0} y={y0} width={x1 - x0} height={y1 - y0} fill="#fff" />
      <g clipPath={`url(#${clipId})`}>
        {TIME_TICKS.map((t) => (
          <line key={`gx${t}`} x1={x(t)} x2={x(t)} y1={y0} y2={y1} stroke={GRID} strokeWidth={1} />
        ))}
        {p.yTicks.map((v) => (
          <line key={`gy${v}`} x1={x0} x2={x1} y1={y(v)} y2={y(v)} stroke={GRID} strokeWidth={1} />
        ))}
        {p.rigid.map((s, i) => (
          <path key={`r${i}`} d={line(s) || ''} fill="none" stroke={BLUE} strokeWidth={LW} strokeLinejoin="round" />
        ))}
        {p.flex.map((s, i) => (
          <path key={`f${i}`} d={line(s) || ''} fill="none" stroke={ORANGE} strokeWidth={LW} strokeLinejoin="round" />
        ))}
        <path d={line(p.target) || ''} fill="none" stroke="#000" strokeWidth={2.6} strokeLinejoin="round" />
      </g>
      <rect x={x0} y={y0} width={x1 - x0} height={y1 - y0} fill="none" stroke={SPINE} strokeWidth={1.2} />
      {TIME_TICKS.map((t) => (
        <g key={`tx${t}`}>
          <line x1={x(t)} x2={x(t)} y1={y1} y2={y1 + 5} stroke={SPINE} strokeWidth={1.1} />
          {bottom && (
            <text x={x(t)} y={y1 + 15} textAnchor="middle" fontFamily={SERIF} fontSize={14.5} fill="#222">
              {fmt1(t)}
            </text>
          )}
        </g>
      ))}
      {p.yTicks.map((v) => (
        <g key={`ty${v}`}>
          <line x1={x0 - 5} x2={x0} y1={y(v)} y2={y(v)} stroke={SPINE} strokeWidth={1.1} />
          <text x={x0 - 7.5} y={y(v) + 5.2} textAnchor="end" fontFamily={SERIF} fontSize={15} fill="#222">
            {minus(fmt2(v))}
          </text>
        </g>
      ))}
      <text x={cx} y={y0 - 13} textAnchor="middle" fontFamily={SERIF} fontSize={19} fill="#111">
        {p.title}
      </text>
      {p.col === 0 && (
        <text
          transform={`translate(${x0 - 37},${(y0 + y1) / 2}) rotate(-90)`}
          textAnchor="middle"
          fontFamily={SERIF}
          fontSize={14.5}
          fill="#222"
        >
          Position (m)
        </text>
      )}
      {bottom && (
        <text x={cx} y={y1 + 28.1} textAnchor="middle" fontFamily={SERIF} fontSize={11} fill="#222">
          Time (s)
        </text>
      )}
    </g>
  );
}

const LEGEND_ITEMS = [
  { label: LEGEND_LABELS[0], color: BLUE, lx: 16, tx: 67, w: 1.8 },
  { label: LEGEND_LABELS[1], color: ORANGE, lx: 362, tx: 414, w: 1.8 },
  { label: LEGEND_LABELS[2], color: '#000', lx: 854, tx: 902, w: 2.2 },
];

export default function App() {
  return (
    <div style={{ position: 'absolute', left: 0, top: 0, width: W, height: H, overflow: 'hidden', background: '#fff' }}>
      <svg width={W} height={H} viewBox={`0 0 ${W} ${H}`} style={{ display: 'block' }}>
        <rect x={0} y={0} width={W} height={H} fill="#fff" />
        {PANELS.map((p, i) => (
          <Panel key={i} p={p} idx={i} />
        ))}
        <rect x={11} y={10} width={1020} height={28} rx={3} fill="#fff" stroke="#cfcfcf" strokeWidth={1} />
        {LEGEND_ITEMS.map((it) => (
          <g key={it.label}>
            <line x1={it.lx} x2={it.lx + 37} y1={22.5} y2={22.5} stroke={it.color} strokeWidth={it.w} />
            <text x={it.tx} y={30.3} fontFamily={SERIF} fontSize={18} fill="#111">
              {it.label}
            </text>
          </g>
        ))}
      </svg>
    </div>
  );
}
